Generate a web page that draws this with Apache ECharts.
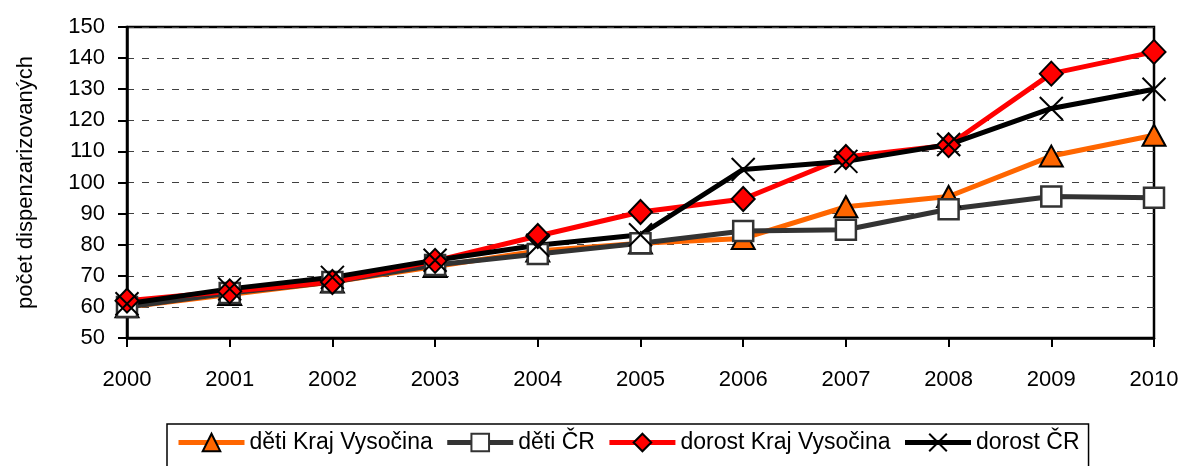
<!DOCTYPE html>
<html>
<head>
<meta charset="utf-8">
<script src="https://cdn.jsdelivr.net/npm/echarts@6/dist/echarts.min.js"></script>
<style>
html,body{margin:0;padding:0;background:#fff;}
#chart{width:1182px;height:466px;}
</style>
</head>
<body>
<div id="chart"></div>
<script>
var years = ['2000','2001','2002','2003','2004','2005','2006','2007','2008','2009','2010'];
var detiKraj   = [60, 64, 68, 73, 78, 80.5, 82, 92.2, 95.5, 108.5, 115.2];
var detiCR     = [60, 64.5, 68, 73.5, 77, 80.5, 84.4, 84.8, 91.4, 95.5, 95.1];
var dorostKraj = [62, 65, 68, 74.8, 82.8, 90.5, 94.7, 108.2, 112, 135, 142];
var dorostCR   = [61, 65.8, 69.5, 75, 79.8, 83.2, 104.2, 106.8, 112.2, 123.8, 130];
var seriesNames = ['děti Kraj Vysočina', 'děti ČR', 'dorost Kraj Vysočina', 'dorost ČR'];

var font = 'Liberation Sans, Arial, sans-serif';
var crossPath = 'path://M0,0 L10,10 M10,0 L0,10';

var myChart = echarts.init(document.getElementById('chart'));
var option = {
    backgroundColor: '#fff',
    animation: false,
    grid: {
        left: 127, right: 28, top: 27, bottom: 128,
        show: true, borderColor: '#000', borderWidth: 2.5, backgroundColor: 'transparent'
    },
    legend: {
        data: seriesNames,
        left: 167, top: 424,
        padding: [7, 9, 20, 9],
        borderColor: '#000', borderWidth: 1.5,
        itemWidth: 66, itemHeight: 22, itemGap: 12,
        lineStyle: { width: 5 },
        textStyle: { fontFamily: font, fontSize: 23, color: '#000' }
    },
    xAxis: {
        type: 'category',
        data: years,
        boundaryGap: false,
        axisLine: { lineStyle: { color: '#000', width: 2.5 } },
        axisTick: { show: true, alignWithLabel: true, length: 9, lineStyle: { color: '#000', width: 2 } },
        axisLabel: { margin: 31, fontFamily: font, fontSize: 22, color: '#000' },
        splitLine: { show: false }
    },
    yAxis: {
        type: 'value',
        min: 50, max: 150, interval: 10,
        name: 'počet dispenzarizovaných',
        nameLocation: 'middle',
        nameGap: 90,
        nameTextStyle: { fontFamily: font, fontSize: 22, color: '#000' },
        axisLine: { show: true, lineStyle: { color: '#000', width: 2.5 } },
        axisTick: { show: true, length: 9, lineStyle: { color: '#000', width: 2 } },
        axisLabel: { margin: 22, fontFamily: font, fontSize: 22, color: '#000' },
        splitLine: { show: true, lineStyle: { color: '#404040', width: 1, type: [7, 8] } }
    },
    series: [
        {
            name: seriesNames[0], type: 'line', data: detiKraj,
            symbol: 'triangle', symbolSize: [23, 21],
            lineStyle: { color: '#FF6600', width: 5 },
            itemStyle: { color: '#FF6600', borderColor: '#000', borderWidth: 2 }
        },
        {
            name: seriesNames[1], type: 'line', data: detiCR,
            symbol: 'rect', symbolSize: 20,
            lineStyle: { color: '#333333', width: 5 },
            itemStyle: { color: '#fff', borderColor: '#333333', borderWidth: 2.5 }
        },
        {
            name: seriesNames[2], type: 'line', data: dorostKraj,
            symbol: 'diamond', symbolSize: [23, 24],
            lineStyle: { color: '#FF0000', width: 5 },
            itemStyle: { color: '#FF0000', borderColor: '#000', borderWidth: 2 }
        },
        {
            name: seriesNames[3], type: 'line', data: dorostCR,
            symbol: crossPath, symbolSize: 23,
            lineStyle: { color: '#000', width: 5 },
            itemStyle: { color: 'transparent', borderColor: '#000', borderWidth: 2 }
        }
    ]
};
myChart.setOption(option);
</script>
</body>
</html>
